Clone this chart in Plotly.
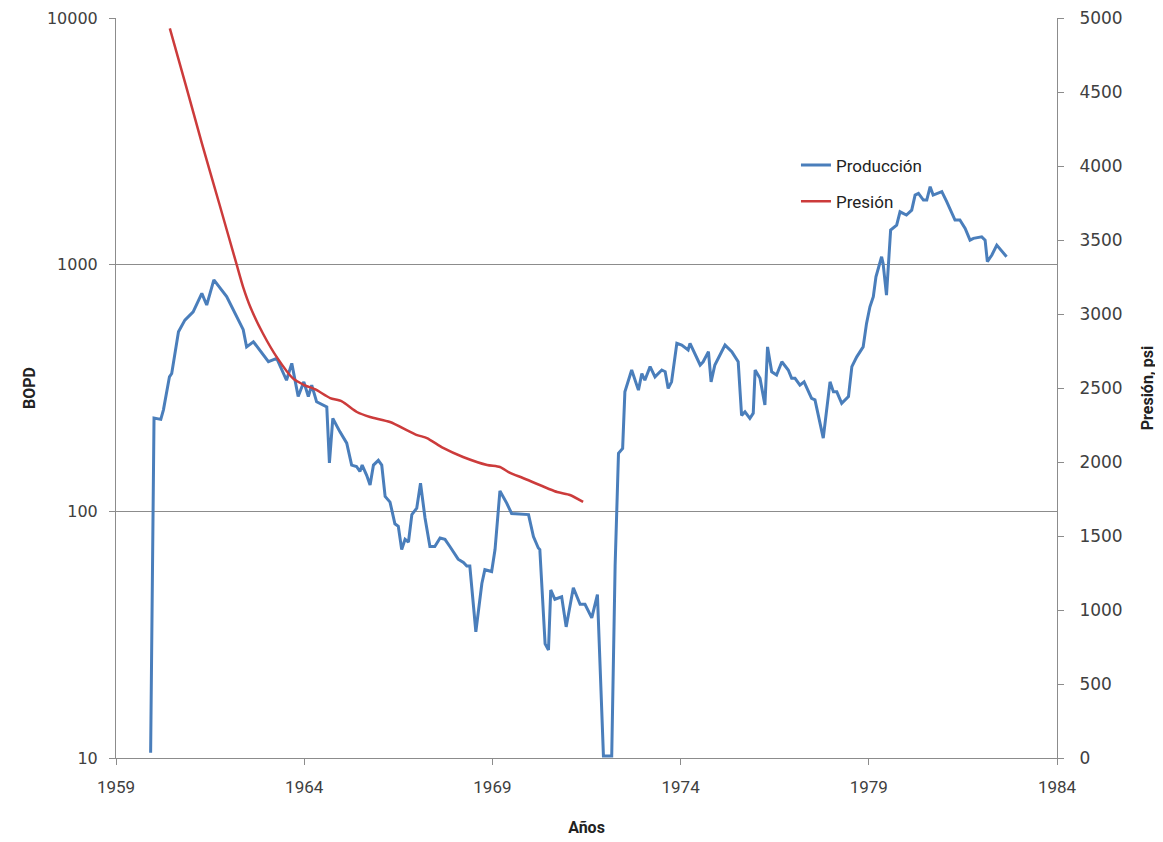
import plotly.graph_objects as go

# ---- data ----
prod_year = [1959.92, 1960.01, 1960.19, 1960.26, 1960.42, 1960.48, 1960.66, 1960.83, 1961.05, 1961.28,
             1961.41, 1961.60, 1961.94, 1962.10, 1962.29, 1962.38, 1962.47, 1962.65, 1963.05, 1963.27,
             1963.53, 1963.67, 1963.84, 1963.99, 1964.11, 1964.20, 1964.33, 1964.60, 1964.67, 1964.76,
             1964.95, 1965.04, 1965.13, 1965.26, 1965.39, 1965.48, 1965.54, 1965.66, 1965.75, 1965.84,
             1965.97, 1966.06, 1966.15, 1966.28, 1966.41, 1966.50, 1966.59, 1966.68, 1966.77, 1966.86,
             1966.99, 1967.09, 1967.21, 1967.34, 1967.47, 1967.61, 1967.74, 1967.87, 1968.09, 1968.23,
             1968.32, 1968.40, 1968.56, 1968.72, 1968.80, 1968.98, 1969.07, 1969.20, 1969.38, 1969.51,
             1969.96, 1970.09, 1970.22, 1970.26, 1970.40, 1970.49, 1970.55, 1970.66, 1970.84, 1970.96,
             1971.15, 1971.33, 1971.46, 1971.64, 1971.79, 1971.95, 1972.17, 1972.26, 1972.35, 1972.46,
             1972.52, 1972.70, 1972.88, 1972.97, 1973.05, 1973.19, 1973.32, 1973.50, 1973.59, 1973.67,
             1973.76, 1973.90, 1974.03, 1974.20, 1974.25, 1974.52, 1974.60, 1974.74, 1974.81, 1974.91,
             1975.18, 1975.36, 1975.53, 1975.62, 1975.71, 1975.84, 1975.93, 1975.98, 1976.11, 1976.24,
             1976.31, 1976.42, 1976.55, 1976.69, 1976.86, 1976.95, 1977.04, 1977.17, 1977.28, 1977.48,
             1977.57, 1977.79, 1977.97, 1978.06, 1978.15, 1978.28, 1978.46, 1978.55, 1978.68, 1978.85,
             1978.94, 1979.03, 1979.12, 1979.19, 1979.34, 1979.38, 1979.47, 1979.58, 1979.74, 1979.83,
             1980.00, 1980.14, 1980.23, 1980.32, 1980.45, 1980.54, 1980.63, 1980.71, 1980.94, 1981.07,
             1981.29, 1981.42, 1981.56, 1981.69, 1981.78, 1982.00, 1982.09, 1982.15, 1982.27, 1982.40,
             1982.66]
prod_bopd = [10.5, 239, 236, 258, 351, 362, 535, 596, 644, 765,
             686, 867, 742, 660, 578, 545, 464, 487, 404, 417,
             340, 398, 292, 335, 292, 325, 278, 265, 157, 238,
             210, 198, 189, 154, 152, 145, 154, 140, 128, 154,
             161, 154, 115, 109, 89, 87, 70, 77, 75, 97,
             103, 130, 94, 72, 72, 78, 77, 72, 64, 62,
             60, 60, 32.5, 51, 58, 57, 70, 121, 108, 98,
             97, 79, 71, 70, 29, 27.4, 48, 44, 45, 34,
             49, 42, 42, 37, 46, 10.2, 10.2, 60, 172, 180,
             305, 374, 310, 362, 340, 386, 351, 374, 368, 315,
             335, 480, 472, 451, 480, 392, 404, 444, 335, 392,
             472, 444, 404, 245, 253, 238, 250, 374, 346, 270,
             464, 368, 357, 404, 374, 346, 346, 325, 335, 287,
             283, 198, 335, 305, 305, 274, 292, 386, 423, 464,
             578, 675, 742, 893, 1077, 1012, 753, 1381, 1447, 1638,
             1589, 1664, 1914, 1945, 1827, 1827, 2070, 1914, 1977, 1800,
             1517, 1517, 1403, 1258, 1278, 1297, 1258, 1028, 1094, 1200,
             1077]

pres_year = [1960.43, 1960.85, 1961.28, 1961.75, 1962.21, 1962.38, 1962.58, 1962.90, 1963.28, 1963.70,
             1964.00, 1964.30, 1964.69, 1965.00, 1965.40, 1965.75, 1966.28, 1967.00, 1967.26,
             1967.69, 1968.22, 1968.86, 1969.20, 1969.47, 1969.81, 1970.72, 1971.06, 1971.41]
pres_psi = [4930, 4550, 4155, 3740, 3330, 3180, 3040, 2870, 2705, 2565,
            2520, 2490, 2432, 2410, 2338, 2304, 2270, 2182, 2162,
            2095, 2034, 1980, 1966, 1926, 1892, 1797, 1777, 1730]

x_ticks = [1959, 1964, 1969, 1974, 1979, 1984]
left_ticks = [10, 100, 1000, 10000]
right_ticks = list(range(0, 5001, 500))

BLUE = "#4A7EBB"
RED = "#CC3B3B"
GRID = "#8C8C8C"
TXT = "#404040"
TICKFONT = "DejaVu Sans"
NARROW = "Liberation Sans Narrow, Roboto, Liberation Sans"

fig = go.Figure()
fig.add_trace(go.Scatter(x=prod_year, y=prod_bopd, mode="lines", name="Producción",
                         line=dict(color=BLUE, width=3), yaxis="y", legend="legend"))
fig.add_trace(go.Scatter(x=pres_year, y=pres_psi, mode="lines", name="Presión",
                         line=dict(color=RED, width=2.5, shape="spline", smoothing=0.6),
                         yaxis="y2", legend="legend2"))

fig.update_layout(
    width=1163, height=842,
    margin=dict(l=108, r=114, t=10, b=92),
    paper_bgcolor="white", plot_bgcolor="white",
    showlegend=True,
    legend=dict(x=0.7226, y=0.825, xanchor="left", yanchor="top",
                font=dict(family=NARROW, size=17, color="#222"), bgcolor="rgba(0,0,0,0)"),
    legend2=dict(x=0.7226, y=0.776, xanchor="left", yanchor="top",
                 font=dict(family=NARROW, size=17, color="#222"), bgcolor="rgba(0,0,0,0)"),
    xaxis=dict(range=[1959, 1984], tickvals=x_ticks, ticktext=[str(v) for v in x_ticks],
               automargin=False, ticklabeloverflow="allow",
               showgrid=False, zeroline=False, showline=True, linecolor=GRID, linewidth=1,
               ticks="outside", ticklen=6, tickcolor=GRID, ticklabelstandoff=8,
               tickfont=dict(family=NARROW, size=17, color=TXT),
               title=dict(text="<b>Años</b>", font=dict(family=NARROW, size=16, color="#222"), standoff=25)),
    yaxis=dict(type="log", range=[1, 4], tickvals=left_ticks, ticktext=[str(v) for v in left_ticks],
               automargin=False, ticklabeloverflow="allow",
               showgrid=True, gridcolor=GRID, gridwidth=1, zeroline=False,
               showline=True, linecolor=GRID, linewidth=1, mirror=False,
               ticks="outside", ticklen=6, tickcolor=GRID, ticklabelstandoff=8,
               tickfont=dict(family=TICKFONT, size=16, color=TXT),
               title=dict(text="<b>BOPD</b>", font=dict(family=NARROW, size=16, color="#222"), standoff=7)),
    yaxis2=dict(overlaying="y", side="right", range=[0, 5000], tickvals=right_ticks,
                automargin=False, ticklabeloverflow="allow",
                showgrid=False, zeroline=False, showline=True, linecolor=GRID, linewidth=1,
                ticks="outside", ticklen=6, tickcolor=GRID, ticklabelstandoff=12,
                tickfont=dict(family=TICKFONT, size=17, color=TXT),
                title=dict(text="<b>Presión, psi</b>", font=dict(family=NARROW, size=16, color="#222"), standoff=20)),
)

fig.write_html("out.html")
